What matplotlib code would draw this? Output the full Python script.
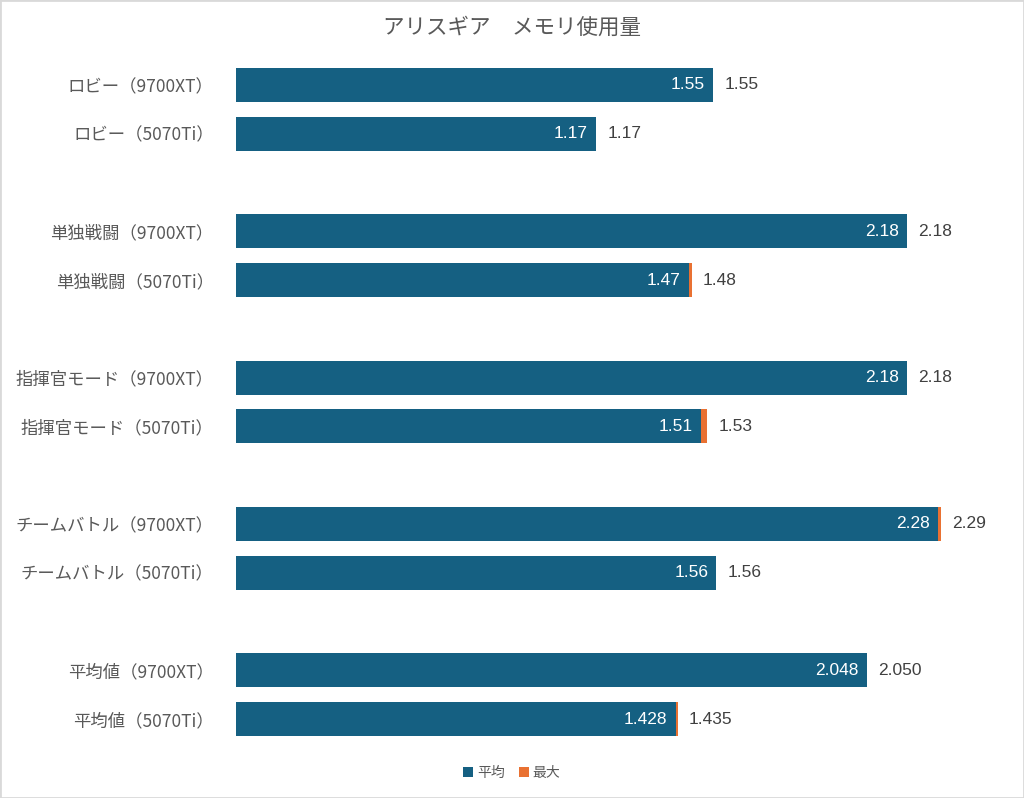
import matplotlib
matplotlib.use("Agg")
import matplotlib.pyplot as plt
from matplotlib.patches import Rectangle

plt.rcParams['font.family'] = ['Noto Sans CJK JP', 'DejaVu Sans']

# data
categories = [
    "ロビー（9700XT）", "ロビー（5070Ti）", "",
    "単独戦闘（9700XT）", "単独戦闘（5070Ti）", "",
    "指揮官モード（9700XT）", "指揮官モード（5070Ti）", "",
    "チームバトル（9700XT）", "チームバトル（5070Ti）", "",
    "平均値（9700XT）", "平均値（5070Ti）",
]
avg_vals = [1.55, 1.17, None, 2.18, 1.47, None, 2.18, 1.51, None, 2.28, 1.56, None, 2.048, 1.428]
max_vals = [1.55, 1.17, None, 2.18, 1.48, None, 2.18, 1.53, None, 2.29, 1.56, None, 2.050, 1.435]
decimals = [2, 2, 0, 2, 2, 0, 2, 2, 0, 2, 2, 0, 3, 3]

c_avg = "#156082"
c_max = "#E97132"
txt = "#595959"

fig = plt.figure(figsize=(10.24, 7.98), dpi=100)
ax = fig.add_axes([236 / 1024, 1 - 743.4 / 798, (1006 - 236) / 1024, (743.4 - 60.6) / 798])

ys = [i for i, v in enumerate(avg_vals) if v is not None]
a = [avg_vals[i] for i in ys]
m = [max_vals[i] for i in ys]
d = [mx - av for mx, av in zip(m, a)]

ax.barh(ys, a, height=0.7, color=c_avg, label="平均")
ax.barh(ys, d, left=a, height=0.7, color=c_max, label="最大")

for y, av, mx in zip(ys, a, m):
    fmt = "{:.%df}" % decimals[y]
    ax.annotate(fmt.format(av), xy=(av, y), xytext=(-6, 0), textcoords="offset points",
                ha="right", va="center", color="white", fontsize=12.5, family="Liberation Sans")
    ax.annotate(fmt.format(mx), xy=(mx, y), xytext=(8, 0), textcoords="offset points",
                ha="left", va="center", color="#404040", fontsize=12.5, family="Liberation Sans")

ax.set_xlim(0, 2.5)
ax.set_ylim(len(categories) - 0.5, -0.5)
ax.set_yticks(range(len(categories)))
ax.set_yticklabels(categories, fontsize=12.5, color=txt)
ax.tick_params(axis="y", length=0, pad=16)
ax.set_xticks([])
for s in ax.spines.values():
    s.set_visible(False)

fig.text(0.5, 1 - 28 / 798, "アリスギア　メモリ使用量", ha="center", va="center", fontsize=15.5, color=txt)

fig.legend(loc="center", bbox_to_anchor=(0.5, 1 - 773 / 798), ncol=2, frameon=False,
           fontsize=10, handlelength=0.7, handleheight=0.7, handletextpad=0.3, columnspacing=1.0,
           labelcolor=txt)

fig.patches.append(Rectangle((0, 0), 1, 1, transform=fig.transFigure, fill=False,
                             edgecolor="#d9d9d9", linewidth=2))

fig.savefig("out.png", dpi=100)
